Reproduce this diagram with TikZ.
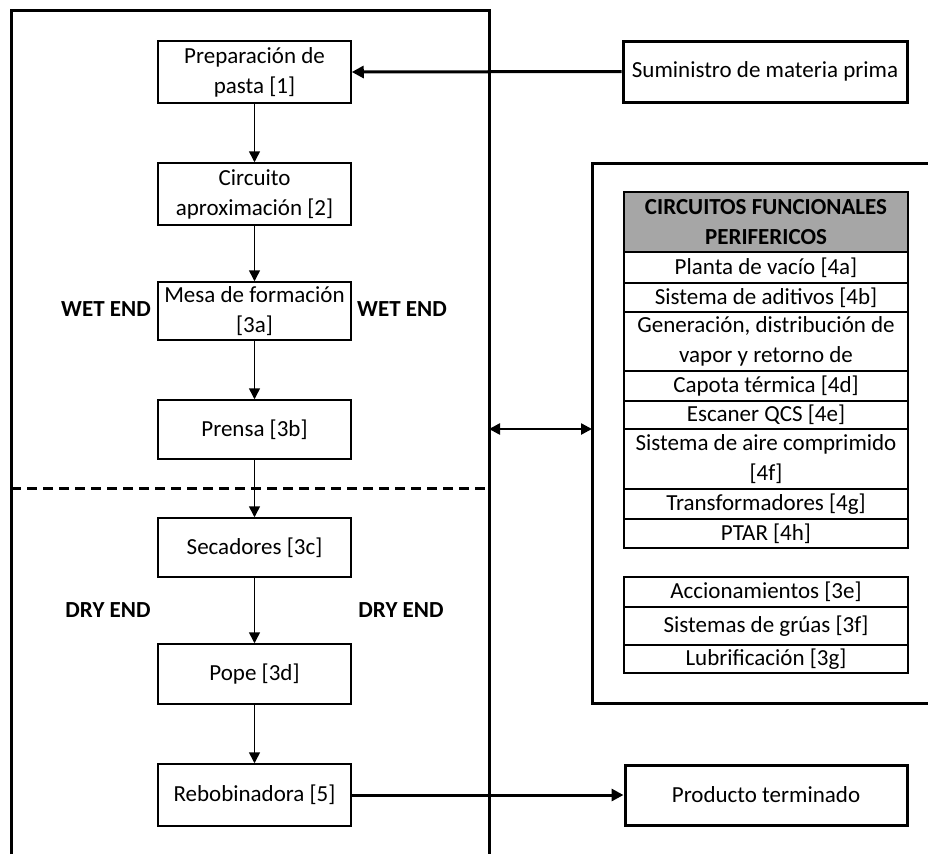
\documentclass[tikz,border=0pt]{standalone}
\usepackage{fontspec}
\setmainfont{Carlito}
\usetikzlibrary{arrows.meta}
\definecolor{headgray}{HTML}{A6A6A6}
\begin{document}
\begin{tikzpicture}[x=1pt,y=-1pt,
  every node/.style={font=\fontsize{23}{30}\selectfont, inner sep=0pt, align=center},
  stepbox/.style={draw, line width=1.5pt, minimum width=193pt, minimum height=60pt},
  outbox/.style={draw, line width=3pt, minimum width=284pt, minimum height=61pt},
  row/.style={draw, line width=1.5pt, minimum width=284pt},
  tag/.style={font=\fontsize{23}{30}\selectfont\bfseries},
  flow/.style={line width=1.5pt, -{Triangle[length=11pt,width=11pt]}},
  thick flow/.style={line width=3pt, -{Triangle[length=12pt,width=12pt]}},
  frame/.style={line width=3pt}
]
\useasboundingbox (0,0) rectangle (928,854);

% process frame (open at the bottom) and peripheral frame (open at the right)
\draw[frame] (11,854) -- (11,10) -- (489,10) -- (489,854);
\draw[frame] (928,163) -- (592,163) -- (592,703) -- (928,703);
\draw[frame, dash pattern=on 10pt off 6pt] (11,488) -- (489,488);

% main process chain
\node[stepbox, minimum height=62pt] (prep) at (254.5,72) {Preparación de\\pasta [1]};
\node[stepbox, minimum height=62pt] (circ) at (254.5,194) {Circuito\\aproximación [2]};
\node[stepbox, minimum height=58pt] (mesa) at (254.5,311) {Mesa de formación\\{}[3a]};
\node[stepbox, minimum height=59pt] (prensa) at (254.5,429.5) {Prensa [3b]};
\node[stepbox, minimum height=59pt] (secad) at (254.5,547.5) {Secadores [3c]};
\node[stepbox, minimum height=60pt] (pope) at (254.5,674) {Pope [3d]};
\node[stepbox, minimum height=62pt] (rebob) at (254.5,795) {Rebobinadora [5]};

% section labels
\node[tag] (wetL) at (106,309) {WET END};
\node[tag] (wetR) at (402,309) {WET END};
\node[tag] (dryL) at (108,610) {DRY END};
\node[tag] (dryR) at (401,610) {DRY END};

% inputs and outputs
\node[outbox] (sumin) at (765,71.5) {Suministro de materia prima};
\node[outbox, minimum width=282pt, minimum height=60pt] (prod) at (766,795) {Producto terminado};

% peripheral functional circuits
\node[row, fill=headgray, minimum height=60pt, font=\fontsize{23}{30}\selectfont\bfseries] (head) at (766,222) {CIRCUITOS FUNCIONALES\\PERIFERICOS};
\node[row, minimum height=31pt] (r4a) at (766,267.5) {Planta de vacío [4a]};
\node[row, minimum height=29pt] (r4b) at (766,297.5) {Sistema de aditivos [4b]};
\node[row, minimum height=59pt] (r4c) at (766,341.5) {Generación, distribución de\\vapor y retorno de};
\node[row, minimum height=30pt] (r4d) at (766,386) {Capota térmica [4d]};
\node[row, minimum height=28pt] (r4e) at (766,415) {Escaner QCS [4e]};
\node[row, minimum height=60pt] (r4f) at (766,459) {Sistema de aire comprimido\\{}[4f]};
\node[row, minimum height=30pt] (r4g) at (766,504) {Transformadores [4g]};
\node[row, minimum height=29pt] (r4h) at (766,533.5) {PTAR [4h]};

\node[row, minimum height=30pt] (r3e) at (766,592) {Accionamientos [3e]};
\node[row, minimum height=38pt] (r3f) at (766,626) {Sistemas de grúas [3f]};
\node[row, minimum height=28pt] (r3g) at (766,659) {Lubrificación [3g]};

% connection points on the two frames
\coordinate (procEdge) at (489,429);
\coordinate (periEdge) at (592,429);

% connectors
\draw[flow] (prep) -- (circ);
\draw[flow] (circ) -- (mesa);
\draw[flow] (mesa) -- (prensa);
\draw[flow] (prensa) -- (secad);
\draw[flow] (secad) -- (pope);
\draw[flow] (pope) -- (rebob);
\draw[thick flow] (sumin.west) -- (prep.east);
\draw[thick flow] (rebob.east) -- (prod.west);
\draw[line width=2.5pt, {Triangle[length=11pt,width=11pt]}-{Triangle[length=11pt,width=11pt]}] (procEdge) -- (periEdge);
\end{tikzpicture}
\end{document}
